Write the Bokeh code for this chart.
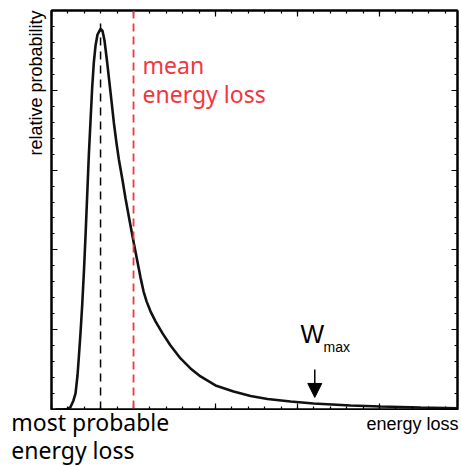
from bokeh.embed import file_html
from bokeh.layouts import column
from bokeh.models import (Arrow, FixedTicker, Label, LinearAxis, NormalHead,
                          Range1d, Span, Title)
from bokeh.plotting import figure
from bokeh.resources import INLINE

# Energy-loss distribution (arbitrary units) sampled along the curve
energy = [0.049, 0.134, 0.191, 0.232, 0.268, 0.293, 0.317, 0.333, 0.354, 0.374,
          0.396, 0.415, 0.435, 0.455, 0.476, 0.496, 0.516, 0.537, 0.561, 0.598,
          0.622, 0.646, 0.679, 0.720, 0.760, 0.793, 0.821, 0.866, 0.902, 0.951,
          1.004, 1.049, 1.085, 1.122, 1.159, 1.207, 1.268, 1.354, 1.451, 1.573,
          1.695, 1.817, 2.000, 2.220, 2.427, 2.634, 2.915, 3.195, 3.646, 4.012,
          4.500, 4.951]
probability = [0.000, 0.000, 0.006, 0.031, 0.113, 0.201, 0.426, 0.652, 0.965, 1.303,
               1.742, 2.180, 2.682, 3.183, 3.622, 4.035, 4.348, 4.561, 4.699, 4.769,
               4.743, 4.624, 4.348, 3.972, 3.597, 3.333, 3.137, 2.873, 2.647, 2.371,
               2.083, 1.844, 1.656, 1.481, 1.355, 1.230, 1.104, 0.954, 0.803, 0.640,
               0.515, 0.414, 0.301, 0.226, 0.169, 0.132, 0.100, 0.075, 0.050, 0.038,
               0.025, 0.015]

most_probable = 0.598
mean_loss = 1.0
w_max = 3.21
peak_top = 4.85

major_x = [0, 1, 2, 3, 4]
minor_x = [round(i * 0.2, 1) for i in range(25)]
major_y = [0, 1, 2, 3, 4, 5]
minor_y = [round(i * 0.2, 1) for i in range(26)]

X0, X1 = 0.0, 4.95
Y0, Y1 = 0.0, 5.0
FRAME_W, FRAME_H = 406, 399
LEFT, RIGHT, TOP, BOTTOM = 51, 4, 10, 1
TOTAL_W, TOTAL_H = 461, 466

RED = "#f2353f"

px_x = (X1 - X0) / FRAME_W
px_y = (Y1 - Y0) / FRAME_H

p = figure(frame_width=FRAME_W, frame_height=FRAME_H, output_backend="svg",
           toolbar_location=None, title=None,
           x_range=Range1d(X0, X1), y_range=Range1d(Y0, Y1),
           x_axis_type=None, y_axis_type=None,
           min_border_left=LEFT, min_border_right=RIGHT, min_border_top=TOP,
           min_border_bottom=BOTTOM)
p.background_fill_color = "white"
p.border_fill_color = "white"
p.outline_line_color = "black"
p.outline_line_width = 2
p.xgrid.visible = False
p.ygrid.visible = False


def framed_axis(ticks, minor, side):
    ax = LinearAxis(ticker=FixedTicker(ticks=ticks, minor_ticks=minor))
    ax.major_label_overrides = {t: "" for t in ticks}
    ax.major_label_text_font_size = "0px"
    ax.major_label_standoff = 0
    ax.major_tick_in = 6
    ax.major_tick_out = 0
    ax.minor_tick_in = 3
    ax.minor_tick_out = 0
    ax.major_tick_line_width = 1.2
    ax.minor_tick_line_width = 1.2
    ax.major_tick_line_color = "black"
    ax.minor_tick_line_color = "black"
    ax.axis_line_width = 2
    ax.axis_line_color = "black"
    p.add_layout(ax, side)


framed_axis(major_x, minor_x, "below")
framed_axis(major_x, minor_x, "above")
framed_axis(major_y, minor_y, "left")
framed_axis(major_y, minor_y, "right")

p.add_layout(Title(text="relative probability", align="right",
                   text_font="Liberation Sans", text_font_size="18px",
                   text_font_style="normal", text_color="black",
                   standoff=12), "left")

# distribution curve
p.line(energy, probability, line_color="#111111", line_width=2.6)

# most probable energy loss marker
p.segment(x0=[most_probable], y0=[0], x1=[most_probable], y1=[peak_top],
          line_color="black", line_width=1.5, line_dash="8 6")

# mean energy loss marker
p.add_layout(Span(location=mean_loss, dimension="height", line_color=RED,
                  line_width=1.8, line_dash="8 5"))

# W_max arrow
p.add_layout(Arrow(x_start=w_max, y_start=0.502, x_end=w_max, y_end=0.151,
                   line_color="black", line_width=1.5,
                   end=NormalHead(size=14, fill_color="black",
                                  line_color="black")))


def label(fig, x, y, text, size, font, color="black", align="left"):
    # y is the baseline; the label box sits a little low, so lift it
    lift = 0.38 * size * px_y
    fig.add_layout(Label(x=x, y=y + lift, text=text, text_font=font,
                         text_font_size=f"{size}px", text_color=color,
                         text_align=align, text_baseline="alphabetic"))


label(p, 1.11, 4.21, "mean", 23, "Noto Sans", RED)
label(p, 1.11, 3.84, "energy loss", 23, "Noto Sans", RED)
label(p, 3.037, 0.828, "W", 25, "Liberation Sans")
label(p, 3.317, 0.719, "max", 14, "Liberation Sans")

# strip under the chart for the captions, sharing the chart's scale
main_h = TOP + FRAME_H + BOTTOM
strip_h = TOTAL_H - main_h
q = figure(width=TOTAL_W, height=strip_h, output_backend="svg",
           toolbar_location=None, title=None,
           x_range=Range1d(X0 - LEFT * px_x, X1 + RIGHT * px_x),
           y_range=Range1d(Y0 - (BOTTOM + strip_h) * px_y, Y0 - BOTTOM * px_y),
           x_axis_type=None, y_axis_type=None,
           min_border=0, outline_line_color=None)
q.xgrid.visible = False
q.ygrid.visible = False

# keep each figure's frame where its own borders put it
for fig in (p, q):
    try:
        fig.frame_align = False
    except AttributeError:
        pass

label(q, -0.49, -0.263, "most probable", 23, "Noto Sans")
label(q, -0.49, -0.615, "energy loss", 23, "Noto Sans")
label(q, 4.963, -0.263, "energy loss", 18, "Liberation Sans", align="right")

layout = column(p, q, spacing=0)
open("out.html", "w").write(file_html(layout, INLINE))
